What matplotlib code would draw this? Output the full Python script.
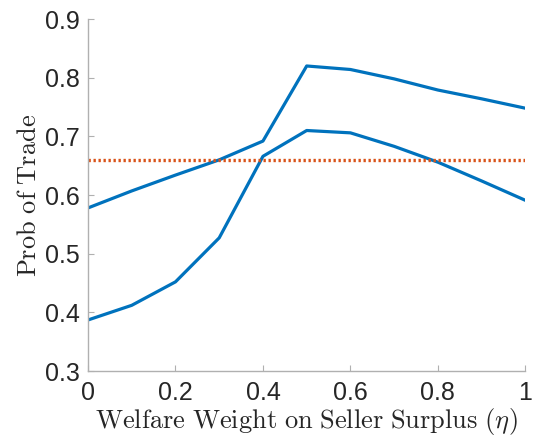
import matplotlib.pyplot as plt
import numpy as np

plt.rcParams['font.family'] = ['Liberation Sans', 'DejaVu Sans']
plt.rcParams['mathtext.fontset'] = 'cm'

# Data
eta = [0.0, 0.1, 0.2, 0.3, 0.4, 0.5, 0.6, 0.7, 0.8, 0.9, 1.0]
upper = [0.578, 0.607, 0.634, 0.660, 0.692, 0.820, 0.814, 0.798, 0.779, 0.764, 0.748]
lower = [0.387, 0.412, 0.452, 0.527, 0.666, 0.710, 0.706, 0.683, 0.656, 0.624, 0.591]
baseline = 0.659

xticks = [0, 0.2, 0.4, 0.6, 0.8, 1]
yticks = [0.3, 0.4, 0.5, 0.6, 0.7, 0.8, 0.9]

fig = plt.figure(figsize=(5.35, 4.43), dpi=100)
ax = fig.add_axes([0.1645, 0.1625, 0.8175, 0.7945])

blue = '#0072BD'
orange = '#D95319'
ax.plot(eta, upper, color=blue, lw=2.3)
ax.plot(eta, lower, color=blue, lw=2.3)
ax.axhline(baseline, color=orange, lw=2.4, ls=(0, (0.7, 0.8)))

ax.set_xlim(0, 1)
ax.set_ylim(0.3, 0.9)
ax.set_xticks(xticks)
ax.set_xticklabels(['0', '0.2', '0.4', '0.6', '0.8', '1'])
ax.set_yticks(yticks)
ax.set_yticklabels([f'{v:.1f}' for v in yticks])

for s in ['top', 'right']:
    ax.spines[s].set_visible(False)
for s in ['left', 'bottom']:
    ax.spines[s].set_color('#b0b0b0')
    ax.spines[s].set_linewidth(1.0)
ax.tick_params(direction='in', length=4, width=0.8, color='#b0b0b0',
               labelsize=18, labelcolor='#262626')
ax.tick_params(axis='x', pad=7)
ax.tick_params(axis='y', pad=6)

ax.set_xlabel(r'$\mathrm{Welfare\ Weight\ on\ Seller\ Surplus\ }(\eta)$',
              fontsize=19, color='#262626', labelpad=1)
ax.set_ylabel(r'$\mathrm{Prob\ of\ Trade}$', fontsize=19, color='#262626', labelpad=3)

fig.savefig('out.png', dpi=100)
